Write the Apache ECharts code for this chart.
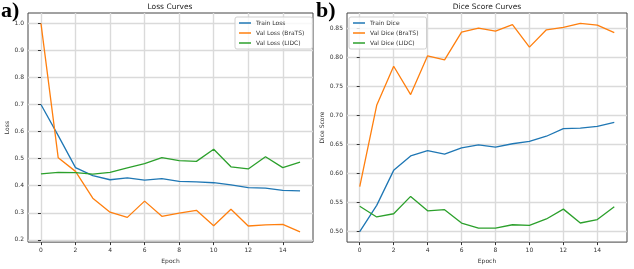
<!DOCTYPE html>
<html><head><meta charset="utf-8">
<script src="https://cdn.jsdelivr.net/npm/echarts@6/dist/echarts.min.js"></script>
<style>html,body{margin:0;padding:0;background:#fff}#c{width:634px;height:269px}</style>
</head><body><div id="c"></div>
<script>
const epochs = [0,1,2,3,4,5,6,7,8,9,10,11,12,13,14,15];
const trainLoss = [0.70,0.585,0.467,0.437,0.422,0.429,0.421,0.426,0.416,0.414,0.411,0.403,0.393,0.391,0.383,0.381];
const valLossBraTS = [1.0,0.503,0.453,0.354,0.302,0.283,0.343,0.287,0.299,0.309,0.252,0.313,0.251,0.255,0.257,0.229];
const valLossLIDC = [0.444,0.449,0.448,0.443,0.449,0.466,0.482,0.504,0.493,0.490,0.535,0.470,0.462,0.507,0.467,0.487];
const trainDice = [0.499,0.5445,0.605,0.630,0.639,0.633,0.644,0.649,0.645,0.651,0.655,0.664,0.677,0.678,0.681,0.688];
const valDiceBraTS = [0.577,0.7175,0.785,0.736,0.803,0.796,0.844,0.851,0.8455,0.857,0.818,0.848,0.852,0.859,0.856,0.843];
const valDiceLIDC = [0.543,0.5245,0.530,0.560,0.535,0.537,0.514,0.505,0.505,0.511,0.510,0.521,0.538,0.514,0.520,0.542];
const xTicks = [0,2,4,6,8,10,12,14];
const lossTicks = [0.2,0.3,0.4,0.5,0.6,0.7,0.8,0.9,1.0];
const diceTicks = [0.50,0.55,0.60,0.65,0.70,0.75,0.80,0.85];

const C = ['#1f77b4','#ff7f0e','#2ca02c'];
const FONT = 'DejaVu Sans';
const FS = 6;
const pair = arr => epochs.map((e,i)=>[e,arr[i]]);

function xAxis(gi){
  return {type:'value', gridIndex:gi, min:-0.75, max:15.75,
    name:'Epoch', nameLocation:'middle', nameGap:13,
    nameTextStyle:{fontFamily:FONT,fontSize:FS,color:'#333'},
    axisLine:{show:false},
    axisTick:{show:true, customValues:xTicks, length:3, lineStyle:{color:'#333'}},
    axisLabel:{customValues:xTicks, fontFamily:FONT, fontSize:FS, color:'#333', margin:5},
    splitLine:{show:true, lineStyle:{color:'#dadada', width:1.4}}};
}
function yAxis(gi, min, max, ticks, dec, name, gap){
  return {type:'value', gridIndex:gi, min:min, max:max,
    name:name, nameLocation:'middle', nameGap:gap, nameRotate:90,
    nameTextStyle:{fontFamily:FONT,fontSize:FS,color:'#333'},
    axisLine:{show:false},
    axisTick:{show:true, customValues:ticks, length:3, lineStyle:{color:'#333'}},
    axisLabel:{customValues:ticks, fontFamily:FONT, fontSize:FS, color:'#333', margin:4,
      formatter:v=>v.toFixed(dec)},
    splitLine:{show:true, lineStyle:{color:'#dadada', width:1.4}}};
}
function ser(name, data, c, xi){
  return {type:'line', name:name, data:pair(data), xAxisIndex:xi, yAxisIndex:xi,
    symbol:'none', lineStyle:{color:c, width:1.3}, itemStyle:{color:c}, animation:false};
}
function legend(names, left, top){
  return {data:names, left:left, top:top, orient:'vertical', icon:'rect',
    itemWidth:12, itemHeight:1.5, itemGap:2, padding:[2,8,2,4],
    backgroundColor:'rgba(255,255,255,0.8)', borderColor:'#d0d0d0', borderWidth:1, borderRadius:2,
    textStyle:{fontFamily:FONT, fontSize:FS, color:'#333', lineHeight:8, padding:[0,0,0,0]}};
}

const chart = echarts.init(document.getElementById('c'), null, {renderer:'canvas'});
chart.setOption({
  animation:false,
  backgroundColor:'#fff',
  title:[
    {text:'Loss Curves', left:170, top:3, padding:0, textAlign:'center', textStyle:{fontFamily:FONT,fontSize:7.5,fontWeight:'normal',color:'#222'}},
    {text:'Dice Score Curves', left:487, top:3, padding:0, textAlign:'center', textStyle:{fontFamily:FONT,fontSize:7.5,fontWeight:'normal',color:'#222'}}
  ],
  grid:[
    {left:28, top:13, width:285, height:232, show:true, borderColor:'#444', borderWidth:1, backgroundColor:'transparent'},
    {left:347, top:13, width:280, height:232, show:true, borderColor:'#444', borderWidth:1, backgroundColor:'transparent'}
  ],
  xAxis:[xAxis(0), xAxis(1)],
  yAxis:[yAxis(0,0.1915,1.0385,lossTicks,1,'Loss',18), yAxis(1,0.481,0.877,diceTicks,2,'Dice Score',21)],
  legend:[legend(['Train Loss','Val Loss (BraTS)','Val Loss (LIDC)'],235,17),
          legend(['Train Dice','Val Dice (BraTS)','Val Dice (LIDC)'],349,17)],
  series:[
    ser('Train Loss',trainLoss,C[0],0), ser('Val Loss (BraTS)',valLossBraTS,C[1],0), ser('Val Loss (LIDC)',valLossLIDC,C[2],0),
    ser('Train Dice',trainDice,C[0],1), ser('Val Dice (BraTS)',valDiceBraTS,C[1],1), ser('Val Dice (LIDC)',valDiceLIDC,C[2],1)
  ],
  graphic:[
    {type:'text', left:1, top:0, style:{text:'a)', font:'bold 22px "Liberation Serif"', fill:'#000'}},
    {type:'text', left:316, top:0, style:{text:'b)', font:'bold 22px "Liberation Serif"', fill:'#000'}}
  ]
});
</script></body></html>
